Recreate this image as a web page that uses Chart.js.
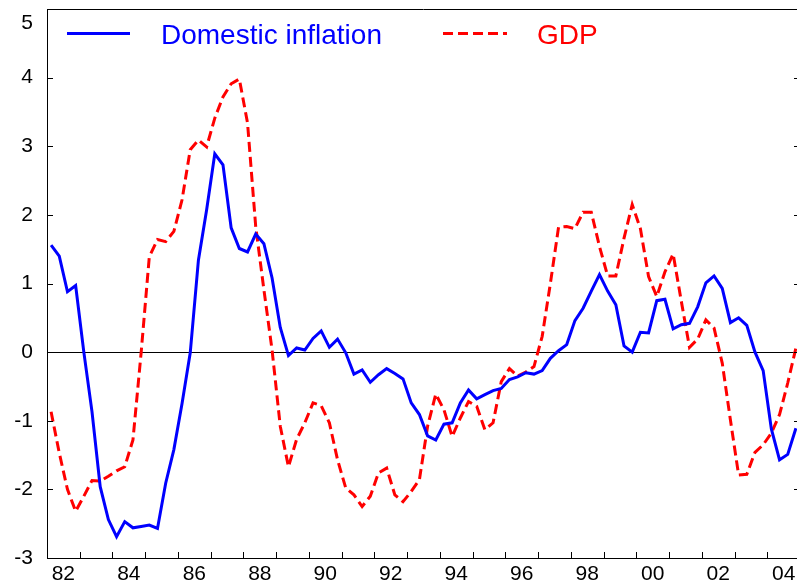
<!DOCTYPE html>
<html>
<head>
<meta charset="utf-8">
<title>Domestic inflation and GDP</title>
<script src="https://cdn.jsdelivr.net/npm/chart.js@4.4.1/dist/chart.umd.min.js"></script>
<style>
  html, body { margin: 0; padding: 0; background: #fff; overflow: hidden; }
  #wrap { width: 797px; height: 586px; overflow: hidden; }
</style>
</head>
<body>
<div id="wrap"><canvas id="chart" width="800" height="586"></canvas></div>
<script>
'use strict';

// ── Data (quarterly, 1982Q1 .. 2004Q4) ───────────────────────────────────────

const START_YEAR = 1982;
const END_YEAR   = 2005;

const inflation = [
   1.56,  1.40,  0.88,  0.97,   0.00, -0.87, -1.96, -2.44,   // 82-83
  -2.69, -2.47, -2.56, -2.54,  -2.52, -2.57, -1.91, -1.42,   // 84-85
  -0.75, -0.01,  1.34,  2.07,   2.89,  2.73,  1.81,  1.51,   // 86-87
   1.46,  1.72,  1.58,  1.08,   0.36, -0.05,  0.06,  0.03,   // 88-89
   0.20,  0.31,  0.07,  0.19,  -0.01, -0.32, -0.26, -0.44,   // 90-91
  -0.33, -0.24, -0.31, -0.39,  -0.74, -0.91, -1.22, -1.28,   // 92-93
  -1.05, -1.03, -0.74, -0.55,  -0.68, -0.62, -0.56, -0.53,   // 94-95
  -0.40, -0.36, -0.30, -0.32,  -0.27, -0.09,  0.02,  0.11,   // 96-97
   0.46,  0.64,  0.89,  1.13,   0.89,  0.69,  0.09,  0.00,   // 98-99
   0.29,  0.28,  0.75,  0.77,   0.34,  0.40,  0.42,  0.66,   // 00-01
   1.01,  1.11,  0.93,  0.43,   0.50,  0.39,  0.00, -0.27,   // 02-03
  -1.12, -1.57, -1.49, -1.11,                                // 04
];

const gdp = [
  -0.87, -1.47, -2.00, -2.32,  -2.10, -1.87, -1.88, -1.81,   // 82-83
  -1.73, -1.67, -1.28, -0.01,   1.39,  1.64,  1.61,  1.76,   // 84-85
   2.22,  2.95,  3.09,  2.99,   3.41,  3.72,  3.91,  3.98,   // 86-87
   3.34,  1.83,  0.91,  0.03,  -1.08, -1.67, -1.27, -1.03,   // 88-89
  -0.74, -0.78, -1.03, -1.57,  -1.98, -2.08, -2.25, -2.10,   // 90-91
  -1.76, -1.69, -2.08, -2.18,  -2.03, -1.86, -1.08, -0.61,   // 92-93
  -0.84, -1.23, -0.96, -0.72,  -0.79, -1.13, -1.03, -0.43,   // 94-95
  -0.24, -0.35, -0.29, -0.21,   0.23,  1.00,  1.82,  1.83,   // 96-97
   1.80,  2.04,  2.04,  1.54,   1.11,  1.11,  1.66,  2.15,   // 98-99
   1.80,  1.10,  0.81,  1.17,   1.43,  0.74,  0.07,  0.19,   // 00-01
   0.47,  0.35, -0.16, -0.99,  -1.79, -1.78, -1.46, -1.35,   // 02-03
  -1.18, -0.91, -0.45,  0.06,                                // 04
];

// x labels sit in the middle of every other year; tick marks on year boundaries
const labelYears = [1982, 1984, 1986, 1988, 1990, 1992, 1994, 1996, 1998, 2000, 2002, 2004];
const labelText  = ['82', '84', '86', '88', '90', '92', '94', '96', '98', '00', '02', '04'];
const tickYears  = [1983, 1984, 1985, 1986, 1987, 1988, 1989, 1990, 1991, 1992, 1993,
                    1994, 1995, 1996, 1997, 1998, 1999, 2000, 2001, 2002, 2003, 2004];
const yTicks     = [-3, -2, -1, 0, 1, 2, 3, 4, 5];

const FONT = "'Liberation Sans', Arial, sans-serif";

// quarter i sits in the middle of its quarter
const quarterX = i => START_YEAR + (i + 0.5) / 4;
const toPoints = arr => arr.map((v, i) => ({ x: quarterX(i), y: v }));

// ── Plugins ──────────────────────────────────────────────────────────────────

// Top border plus inward-pointing tick marks on left, right and bottom.
const frameTicks = {
  id: 'frameTicks',
  afterDraw(chart) {
    const { ctx, chartArea: a, scales: { x, y } } = chart;
    ctx.save();
    ctx.strokeStyle = '#000';
    ctx.lineWidth = 1;
    ctx.beginPath();
    ctx.moveTo(a.left, a.top + 0.5);
    ctx.lineTo(a.right, a.top + 0.5);
    yTicks.forEach(v => {
      const py = Math.round(y.getPixelForValue(v)) + 0.5;
      ctx.moveTo(a.left, py);  ctx.lineTo(a.left + 6, py);
      ctx.moveTo(a.right, py); ctx.lineTo(a.right - 6, py);
    });
    tickYears.forEach(yr => {
      const px = Math.round(x.getPixelForValue(yr)) + 0.5;
      ctx.moveTo(px, a.bottom); ctx.lineTo(px, a.bottom - 6);
    });
    ctx.stroke();
    ctx.restore();
  },
};

// Legend inside the plot, text coloured like its series.
const legendSpots = [
  { x0: 67,  x1: 130, tx: 161 },
  { x0: 443, x1: 507, tx: 537 },
];

const insideLegend = {
  id: 'insideLegend',
  afterDraw(chart) {
    const ctx = chart.ctx;
    ctx.save();
    chart.data.datasets.forEach((ds, i) => {
      const s = legendSpots[i];
      ctx.strokeStyle = ds.borderColor;
      ctx.lineWidth = ds.borderWidth;
      ctx.setLineDash(ds.borderDash || []);
      ctx.beginPath();
      ctx.moveTo(s.x0, 33.5);
      ctx.lineTo(s.x1, 33.5);
      ctx.stroke();
      ctx.setLineDash([]);
      ctx.fillStyle = ds.borderColor;
      ctx.font = '28px ' + FONT;
      ctx.textBaseline = 'alphabetic';
      ctx.fillText(ds.label, s.tx, 44);
    });
    ctx.restore();
  },
};

// ── Chart ────────────────────────────────────────────────────────────────────

new Chart(document.getElementById('chart'), {
  type: 'line',
  data: {
    datasets: [
      {
        label: 'Domestic inflation',
        data: toPoints(inflation),
        borderColor: '#0000ff',
        borderWidth: 3,
        pointRadius: 0,
        tension: 0,
        fill: false,
      },
      {
        label: 'GDP',
        data: toPoints(gdp),
        borderColor: '#ff0000',
        borderWidth: 3,
        borderDash: [10, 5],
        pointRadius: 0,
        tension: 0,
        fill: false,
      },
    ],
  },
  options: {
    responsive: false,
    animation: false,
    events: [],
    layout: { padding: { top: 9, left: 0, right: 0, bottom: 0 } },
    plugins: { legend: { display: false }, tooltip: { enabled: false } },
    scales: {
      x: {
        type: 'linear',
        position: 'bottom',
        min: START_YEAR,
        max: END_YEAR,
        afterBuildTicks: s => { s.ticks = labelYears.map(yr => ({ value: yr + 0.5 })); },
        afterFit: s => { s.height = 28; s.paddingLeft = 0; s.paddingRight = 0; },
        grid: { drawOnChartArea: false, drawTicks: false },
        border: { color: '#000', width: 1 },
        ticks: {
          autoSkip: false,
          maxRotation: 0,
          padding: 4,
          color: '#000',
          font: { family: FONT, size: 21 },
          callback: v => labelText[labelYears.indexOf(Math.round(v - 0.5))],
        },
      },
      y: {
        min: -3,
        max: 5,
        afterBuildTicks: s => { s.ticks = yTicks.map(v => ({ value: v })); },
        afterFit: s => { s.width = 47; s.paddingTop = 0; s.paddingBottom = 0; },
        grid: {
          drawTicks: false,
          lineWidth: 1,
          color: c => (c.tick && c.tick.value === 0 ? '#000' : 'rgba(0,0,0,0)'),
        },
        border: { color: '#000', width: 1 },
        ticks: {
          padding: 14,
          color: '#000',
          // the top label is nudged down below the frame, as in the original
          font: c => ({ family: FONT, size: 21,
                        lineHeight: c.tick && c.tick.value === 5 ? 28 / 21 : 1.2 }),
          callback: v => (v === 5 ? ['', '5'] : String(v)),
        },
      },
    },
  },
  plugins: [frameTicks, insideLegend],
});
</script>
</body>
</html>
